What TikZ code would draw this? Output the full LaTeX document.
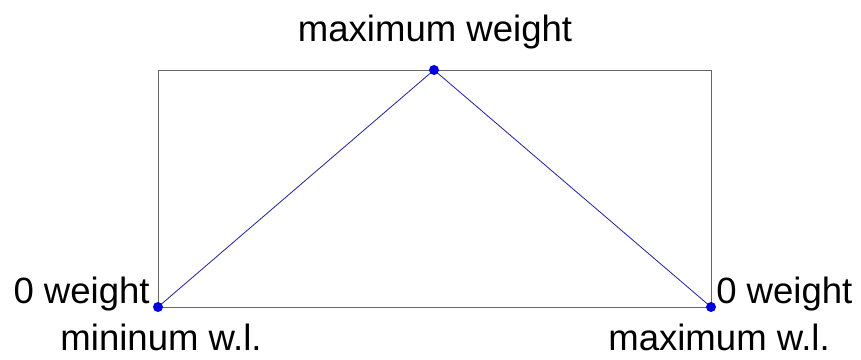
\documentclass[tikz,border=0pt]{standalone}
\usepackage{fontspec}
\setmainfont{Liberation Sans}
\usetikzlibrary{positioning}
\definecolor{linkblue}{RGB}{40,40,160}
\definecolor{dotblue}{RGB}{0,0,225}

\begin{document}
\begin{tikzpicture}[
    x=0.025cm, y=-0.025cm,
    frame/.style={draw=black!60, line width=0.6pt},
    link/.style={draw=linkblue, line width=0.6pt},
    dot/.style={circle, fill=dotblue, inner sep=0pt, minimum size=0.25cm},
    lbl/.style={font=\fontsize{26}{30}\selectfont, inner sep=0pt},
]
\useasboundingbox (0,0) rectangle (861,360);

% Corner points
\coordinate (lo)  at (158,307);
\coordinate (top) at (434,70);
\coordinate (hi)  at (711,307);

% Frame
\draw[frame] (lo) rectangle (hi |- top);

% Weight profile
\draw[link] (lo) -- (top) -- (hi);
\node[dot] (lodot)  at (lo)  {};
\node[dot] (topdot) at (top) {};
\node[dot] (hidot)  at (hi)  {};

% Labels
\node[lbl, anchor=base] (toplbl) at (435,42) {maximum weight};
\node[lbl, anchor=base east] (lolbl) at (150,303) {0 weight};
\node[lbl, anchor=base west] (hilbl) at (716,303) {0 weight};
\node[lbl, anchor=base] (lowl) at (161,350) {mininum w.l.};
\node[lbl, anchor=base] (hiwl) at (719,350) {maximum w.l.};

\end{tikzpicture}
\end{document}
